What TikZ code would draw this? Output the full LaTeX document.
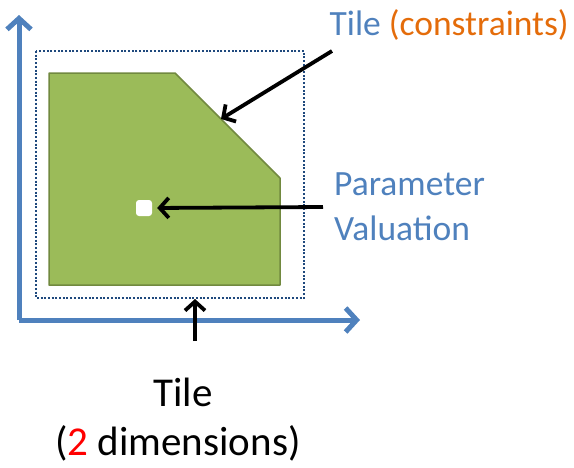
\documentclass[tikz,border=0pt]{standalone}
\usepackage{fontspec}
\setmainfont{Carlito}
\usetikzlibrary{arrows.meta}
\definecolor{axisblue}{HTML}{4F81BD}
\definecolor{txtblue}{HTML}{4F81BD}
\definecolor{txtorange}{HTML}{E46C0A}
\definecolor{tilegreen}{HTML}{9BBB59}
\definecolor{tileedge}{HTML}{71893F}
\definecolor{dotblue}{HTML}{1F497D}
\tikzset{
  axis/.style={draw=axisblue, line width=5pt, -{Straight Barb[length=11pt,width=24pt,line width=5pt]}},
  pointer/.style={draw=black, line width=3.8pt, -{Straight Barb[length=9pt,width=20pt,line width=3.8pt]}},
  lbl/.style={font=\fontsize{35.5}{43}\selectfont, inner sep=0pt},
  biglbl/.style={font=\fontsize{41}{50}\selectfont, inner sep=0pt},
}
\begin{document}
\begin{tikzpicture}[x=1pt,y=-1pt]
\useasboundingbox (0,0) rectangle (574,467);
% axes
\coordinate (o) at (19,320);
\coordinate (ytop) at (19,15);
\coordinate (xend) at (360,320);
\draw[axis] (o) -- (ytop);
\draw[axis] (o) -- (xend);
% dotted tile box
\draw[dotblue, line width=2pt, dash pattern=on 2pt off 1.7pt] (36,51) rectangle (304,298);
% green polygon
\draw[fill=tilegreen, draw=tileedge, line width=1.5pt, line join=round]
  (49,73) -- (175,73) -- (280,178) -- (280,285) -- (49,285) -- cycle;
% white dot
\node[fill=white, rounded corners=3pt, minimum size=16pt, inner sep=0pt] (dot) at (144,208) {};
% labels
\node[lbl, anchor=base east] (tl) at (569,35) {\textcolor{txtblue}{Tile} \textcolor{txtorange}{(constraints)}};
\node[lbl, anchor=base west, text=txtblue] (pv1) at (334,195) {Parameter};
\node[lbl, anchor=base west, text=txtblue] (pv2) at (334,240) {Valuation};
\node[biglbl, anchor=base] (bt1) at (183,406) {Tile};
\node[biglbl, anchor=base] (bt2) at (178,455) {(\textcolor{red}{2} dimensions)};
% pointers
\coordinate (a1s) at (332,51);
\coordinate (a1e) at (221,119);
\draw[pointer] (a1s) -- (a1e);
\coordinate (a2s) at (323,207);
\draw[pointer, shorten >=5pt] (a2s) -- (dot.east);
\coordinate (a3s) at (195,341);
\coordinate (a3e) at (195,299);
\draw[pointer] (a3s) -- (a3e);
\end{tikzpicture}
\end{document}
